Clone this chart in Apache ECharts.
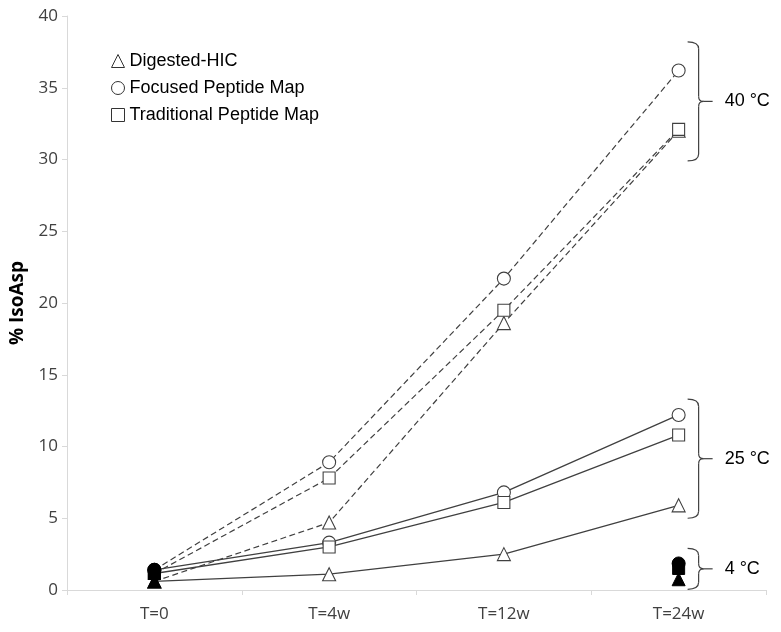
<!DOCTYPE html>
<html><head><meta charset="utf-8">
<script src="https://cdn.jsdelivr.net/npm/echarts@6/dist/echarts.min.js"></script>
<style>html,body{margin:0;padding:0;background:#fff}#c{width:781px;height:632px}</style>
</head><body><div id="c"></div>
<script>
// ---- data ----
const categories = ['T=0', 'T=4w', 'T=12w', 'T=24w'];
const seriesNames = ['Digested-HIC', 'Focused Peptide Map', 'Traditional Peptide Map'];
const hic40 = [0.6, 4.7, 18.6, 32.0];
const fpm40 = [1.4, 8.9, 21.7, 36.2];
const tpm40 = [1.15, 7.8, 19.5, 32.1];
const hic25 = [0.6, 1.1, 2.5, 5.9];
const fpm25 = [1.4, 3.3, 6.8, 12.2];
const tpm25 = [1.15, 3.0, 6.1, 10.8];
const hic4 = [null, null, null, 0.75];
const fpm4 = [null, null, null, 1.85];
const tpm4 = [null, null, null, 1.5];
const yMin = 0, yMax = 40, yStep = 5;
const groupLabels = ['40 °C', '25 °C', '4 °C'];
const groupFrom = [29.9, 5.0, 0.05];
const groupTo = [38.2, 13.3, 2.9];

const symbols = ['triangle', 'circle', 'rect'];
const symSizes = [13, 13, 12];
const LINE = '#404040';

function mkData(arr) {
  return arr.map((v, i) => i === 0
    ? { value: v, itemStyle: { color: '#000', borderColor: '#000' } }
    : v);
}

const series = [];
const sets40 = [hic40, fpm40, tpm40];
const sets25 = [hic25, fpm25, tpm25];
const sets4 = [hic4, fpm4, tpm4];
for (let k = 0; k < 3; k++) {
  series.push({
    name: seriesNames[k], type: 'line', data: mkData(sets40[k]),
    symbol: symbols[k], symbolSize: symSizes[k], z: 3,
    lineStyle: { color: LINE, width: 1.2, type: [6, 3.5] },
    itemStyle: { color: '#fff', borderColor: LINE, borderWidth: 1.1 }
  });
}
for (let k = 0; k < 3; k++) {
  series.push({
    name: seriesNames[k] + ' 25', type: 'line', data: mkData(sets25[k]),
    symbol: symbols[k], symbolSize: symSizes[k], z: 3,
    lineStyle: { color: LINE, width: 1.3, type: 'solid' },
    itemStyle: { color: '#fff', borderColor: LINE, borderWidth: 1.1 }
  });
}
for (let k = 0; k < 3; k++) {
  series.push({
    name: seriesNames[k] + ' 4', type: 'scatter', data: sets4[k],
    symbol: symbols[k], symbolSize: symSizes[k], z: 4,
    itemStyle: { color: '#000', borderColor: '#000', borderWidth: 1, opacity: 1 }
  });
}

const chart = echarts.init(document.getElementById('c'), null, { renderer: 'canvas' });
chart.setOption({
  animation: false,
  backgroundColor: '#fff',
  grid: { left: 67, right: 15, top: 16, bottom: 42, containLabel: false },
  legend: {
    orient: 'vertical', left: 106, top: 47,
    itemWidth: 13, itemHeight: 13, itemGap: 9,
    textStyle: { fontSize: 18, fontFamily: 'Liberation Sans', color: '#000' },
    data: seriesNames.map((n, k) => ({
      name: n, icon: symbols[k],
      itemStyle: { color: '#fff', borderColor: '#333', borderWidth: 1 }
    }))
  },
  xAxis: {
    type: 'category', data: categories, boundaryGap: true,
    axisLine: { lineStyle: { color: '#d9d9d9', width: 1 } },
    axisTick: { show: true, length: 5, lineStyle: { color: '#d9d9d9' } },
    axisLabel: { fontSize: 17, fontFamily: 'Open Sans', color: '#404040', margin: 16 },
    splitLine: { show: false }
  },
  yAxis: {
    type: 'value', min: yMin, max: yMax, interval: yStep,
    name: '% IsoAsp', nameLocation: 'middle', nameRotate: 90, nameGap: 40,
    nameTextStyle: { fontSize: 19, fontWeight: 'bold', fontFamily: 'Open Sans', color: '#000' },
    axisLine: { show: true, lineStyle: { color: '#d9d9d9', width: 1 } },
    axisTick: { show: true, length: 5, lineStyle: { color: '#d9d9d9' } },
    axisLabel: { fontSize: 17, fontFamily: 'Open Sans', color: '#404040', margin: 9 },
    splitLine: { show: false }
  },
  series: series
});

// ---- curly-brace annotations ----
const xLast = chart.convertToPixel({ xAxisIndex: 0 }, categories[3]);
const sx = xLast + 20;
const graphics = [];
const st = { stroke: LINE, lineWidth: 1.2, fill: null };
function curve(x1, y1, cx, cy, x2, y2) {
  graphics.push({ type: 'bezierCurve', shape: { x1, y1, cpx1: cx, cpy1: cy, x2, y2 }, style: st, silent: true });
}
function seg(x1, y1, x2, y2) {
  graphics.push({ type: 'line', shape: { x1, y1, x2, y2 }, style: st, silent: true });
}
for (let g = 0; g < groupLabels.length; g++) {
  const y1 = chart.convertToPixel({ yAxisIndex: 0 }, groupTo[g]);
  const y2 = chart.convertToPixel({ yAxisIndex: 0 }, groupFrom[g]);
  const ym = (y1 + y2) / 2;
  curve(sx - 11, y1, sx, y1, sx, y1 + 7);
  seg(sx, y1 + 7, sx, ym - 5);
  curve(sx, ym - 5, sx, ym, sx + 5, ym);
  curve(sx + 5, ym, sx, ym, sx, ym + 5);
  seg(sx, ym + 5, sx, y2 - 7);
  curve(sx, y2 - 7, sx, y2, sx - 11, y2);
  seg(sx + 5, ym, sx + 14, ym);
  graphics.push({
    type: 'text', x: sx + 26, y: ym,
    style: { text: groupLabels[g], fontSize: 18, fontFamily: 'Liberation Sans', fill: '#000', verticalAlign: 'middle', align: 'left' },
    silent: true
  });
}
chart.setOption({ graphic: graphics });
</script>
</body></html>
